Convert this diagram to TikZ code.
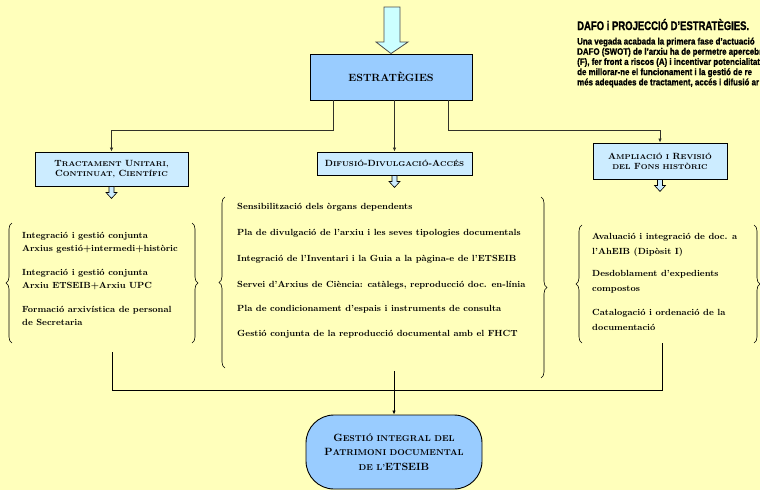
\documentclass[tikz,border=0pt]{standalone}
\usepackage{fontspec}
\newfontfamily\dafohead[FakeStretch=0.76,FakeBold=1.2]{Liberation Sans}
\newfontfamily\dafofont[FakeStretch=0.85,FakeBold=1]{Liberation Sans}
\usetikzlibrary{arrows.meta,decorations.pathreplacing,calc}
\definecolor{bg}{RGB}{255,255,187}
\definecolor{darkbox}{RGB}{153,204,255}
\definecolor{lightbox}{RGB}{204,236,255}
\definecolor{arrowfill}{RGB}{204,255,255}
\definecolor{linecol}{RGB}{50,50,40}
\newcommand{\bsc}[2]{#1{\fontsize{7}{8}\selectfont #2}}
\newcommand{\bscL}[2]{#1{\fontsize{8.5}{10}\selectfont #2}}
\newcommand{\downarr}[1]{\draw[smallarr] ($(#1)+(-2.5,0)$) -- ++(0,6) -- ++(-3,0) -- ++(5.5,6) -- ++(5.5,-6) -- ++(-3,0) -- ++(0,-6) -- cycle;}
\tikzset{
  darkrect/.style={draw=black, line width=0.9pt, fill=darkbox, inner sep=0pt, align=center, font=\bfseries},
  lightrect/.style={draw=black, line width=0.9pt, fill=lightbox, inner sep=0pt, align=center, font=\bfseries\fontsize{9}{11}\selectfont},
  conn/.style={draw=linecol, line width=0.8pt, -{Latex[length=4pt,width=3.5pt]}},
  plainconn/.style={draw=black, line width=0.8pt},
  smallarr/.style={draw=black, line width=0.6pt, fill=lightbox},
  bigarr/.style={draw=black!70, line width=0.8pt, fill=arrowfill},
  bracestyle/.style={draw=black, line width=0.6pt, decorate, decoration={brace, amplitude=6pt}},
  item/.style={anchor=north west, inner sep=0pt, align=left, font=\bfseries\fontsize{8.9}{12.5}\selectfont},
  ritem/.style={anchor=north west, inner sep=0pt, align=left, font=\bfseries\fontsize{8.9}{14.3}\selectfont}
}
\begin{document}
\begin{tikzpicture}[x=1pt,y=-1pt]
\useasboundingbox (0,0) rectangle (760,490);
\fill[bg] (0,0) rectangle (760,490);
\begin{scope}
\clip (0,0) rectangle (760,490);

% heading at top right
\node[anchor=base west, inner sep=0pt, font=\dafohead\bfseries\fontsize{12.5}{14}\selectfont] (dafo) at (577,30) {DAFO i PROJECCIÓ D’ESTRATÈGIES.};
\node[anchor=north west, inner sep=0pt, align=left, font=\dafofont\bfseries\fontsize{9.3}{10.2}\selectfont] (dafotext) at (577,37.5)
  {Una vegada acabada la primera fase d’actuació\\
   DAFO (SWOT) de l’arxiu ha de permetre apercebre\\
   (F), fer front a riscos (A) i incentivar potencialitat\\
   de millorar-ne el funcionament i la gestió de re\\
   més adequades de tractament, accés i difusió ar};

% main boxes
\node[darkrect, minimum width=162pt, minimum height=46pt, font=\bfseries\fontsize{10.5}{12}\selectfont] (est) at (391,77) {ESTRATÈGIES};
\draw[bigarr] (384,7) -- (400,7) -- (400,42) -- (408,42) -- (est.north) -- (376,42) -- (384,42) -- cycle;

\node[lightrect, minimum width=153pt, minimum height=34pt] (left) at (111.5,169)
  {\bsc{T}{RACTAMENT} \bsc{U}{NITARI,}\\[-1pt]\bsc{C}{ONTINUAT,} \bsc{C}{IENTÍFIC}};
\node[lightrect, minimum width=155pt, minimum height=23pt] (mid) at (394.5,163.5)
  {\bsc{D}{IFUSIÓ}-\bsc{D}{IVULGACIÓ}-\bsc{A}{CCÉS}};
\node[lightrect, minimum width=134pt, minimum height=36pt] (right) at (660,161)
  {\bsc{A}{MPLIACIÓ I} \bsc{R}{EVISIÓ}\\[-1pt]{\fontsize{7}{8}\selectfont DEL} \bsc{F}{ONS HISTÒRIC}};

\draw[conn] ([xshift=-58pt]est.south) -- ++(0,30) -| (left.north);
\draw[conn] (est.south -| mid.north) -- (mid.north);
\draw[conn] ([xshift=57pt]est.south) -- ++(0,30) -| (right.north);

\downarr{left.south}
\downarr{mid.south}
\downarr{right.south}

% left group
\draw[bracestyle] (12,343) -- (12,223);
\draw[bracestyle] (192,223) -- (192,343);
\node[item] (l1) at (22,232.5) {Integració i gestió conjunta\\Arxius gestió+intermedi+històric};
\node[item] (l2) at (22,269.5) {Integració i gestió conjunta\\Arxiu ETSEIB+Arxiu UPC};
\node[item] (l3) at (22,306.5) {Formació arxivística de personal\\de Secretaria};

% middle group
\draw[bracestyle] (225,368) -- (225,197);
\draw[bracestyle] (541,197) -- (541,378);
\node[item] (m1) at (237,203.5) {Sensibilització dels òrgans dependents};
\node[item] (m2) at (237,229.5) {Pla de divulgació de l’arxiu i les seves tipologies documentals};
\node[item] (m3) at (237,255.5) {Integració de l’Inventari i la Guia a la pàgina-e de l’ETSEIB};
\node[item] (m4) at (237,281.5) {Servei d’Arxius de Ciència: catàlegs, reproducció doc. en-línia};
\node[item] (m5) at (237,305.5) {Pla de condicionament d’espais i instruments de consulta};
\node[item] (m6) at (237,330.5) {Gestió conjunta de la reproducció documental amb el FHCT};

% right group
\draw[bracestyle] (582,343) -- (582,225);
\draw[bracestyle] (754,225) -- (754,343);
\node[ritem] (r1) at (592,233.5) {Avaluació i integració de doc. a\\l’AhEIB (Dipòsit I)};
\node[ritem] (r2) at (592,270.5) {Desdoblament d’expedients\\compostos};
\node[ritem] (r3) at (592,309.5) {Catalogació i ordenació de la\\documentació};

% bottom oval
\node[darkrect, minimum width=176pt, minimum height=74pt, rounded corners=28pt, font=\bfseries\fontsize{10.5}{14.5}\selectfont] (oval) at (394,452)
  {\bscL{G}{ESTIÓ INTEGRAL DEL}\\\bscL{P}{ATRIMONI DOCUMENTAL}\\{\fontsize{8.5}{10}\selectfont DE L’}ETSEIB};

\coordinate (lc) at (112,352);
\coordinate (rc) at (662,343);
\coordinate (mc) at (394,371);
\draw[plainconn] (lc) |- (rc |- 0,390) -- (rc);
\draw[conn, draw=black] (mc) -- (oval.north);
\end{scope}
\end{tikzpicture}
\end{document}
